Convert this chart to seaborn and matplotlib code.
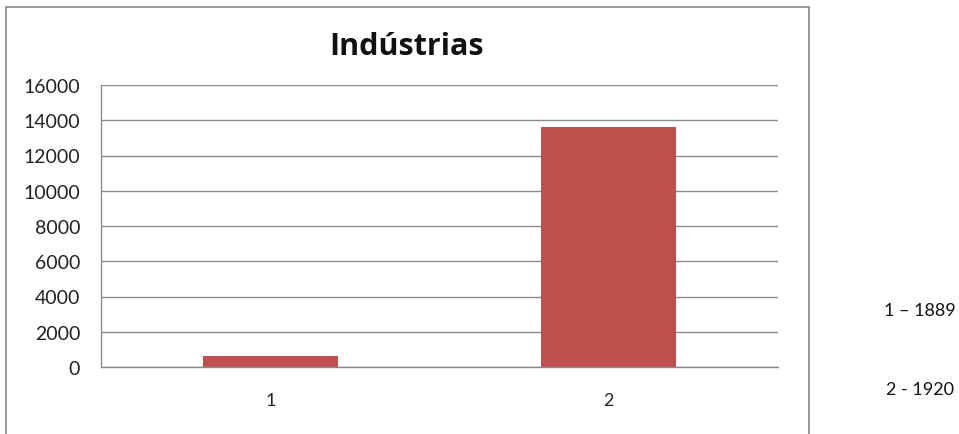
import numpy as np
import pandas as pd
import matplotlib
matplotlib.use("Agg")
import matplotlib.pyplot as plt
import seaborn as sns
from matplotlib.patches import Rectangle

# data
categories = ["1", "2"]
industrias = [650, 13600]
side_notes = ["1 \u2013 1889", "2 - 1920"]
y_ticks = [0, 2000, 4000, 6000, 8000, 10000, 12000, 14000, 16000]

sns.set_style("white")
plt.rcParams["font.family"] = ["Lato", "DejaVu Sans"]

W, H = 959, 435
fig = plt.figure(figsize=(W / 100, H / 100), dpi=100)


def px(x0, y0, x1, y1):
    # pixel box (top-left origin) -> figure fraction [l, b, w, h]
    return [x0 / W, 1 - y1 / H, (x1 - x0) / W, (y1 - y0) / H]


ax = fig.add_axes(px(101, 86, 778, 368))

df = pd.DataFrame({"cat": categories, "val": industrias})
sns.barplot(data=df, x="cat", y="val", ax=ax, color="#C0504D", saturation=1,
            width=0.4, edgecolor="none")

grid_col = "#8C8C8C"
ax.set_ylim(0, 16000)
ax.set_yticks(y_ticks)
ax.set_yticklabels([str(t) for t in y_ticks])
ax.yaxis.grid(True, color=grid_col, linewidth=1)
ax.set_axisbelow(True)
for side in ["top", "right"]:
    ax.spines[side].set_visible(False)
for side in ["left", "bottom"]:
    ax.spines[side].set_color(grid_col)
    ax.spines[side].set_linewidth(1)
ax.tick_params(axis="y", length=0, pad=15, labelsize=14, colors="#222222")
ax.tick_params(axis="x", length=0, pad=18, labelsize=13, colors="#222222")
ax.set_xlabel("")
ax.set_ylabel("")

# chart area border
fig.add_artist(Rectangle((6 / W, -0.05), 803 / W, 1 - 8 / H + 0.05,
                         transform=fig.transFigure, fill=False,
                         edgecolor="#868686", linewidth=1.2))

fig.text(407 / W, 1 - 47 / H, "Indústrias", ha="center", va="center",
         fontsize=22, fontweight="bold", color="#111111",
         family=["Open Sans", "DejaVu Sans"])

fig.text(920 / W, 1 - 311 / H, side_notes[0], ha="center", va="center",
         fontsize=13, color="#111111")
fig.text(920 / W, 1 - 390 / H, side_notes[1], ha="center", va="center",
         fontsize=13, color="#111111")

fig.savefig("out.png", dpi=100, facecolor="white")
